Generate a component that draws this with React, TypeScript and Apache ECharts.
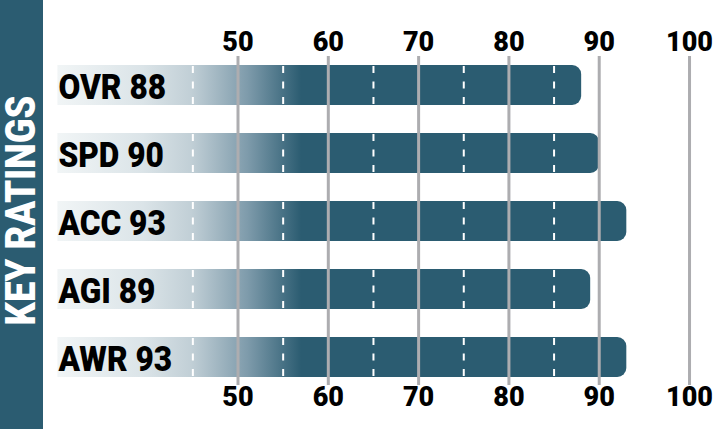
import React, { useEffect, useRef } from "react";
import * as echarts from "echarts";

// Ratings shown as horizontal bars, top to bottom
const categories = ["OVR", "SPD", "ACC", "AGI", "AWR"];
const ratings = [88, 90, 93, 89, 93];

// Axis scale and reference lines
const axisMin = 30;
const axisMax = 102;
const tickLabels = [50, 60, 70, 80, 90, 100];
const dashedMarks = [45, 55, 65, 75, 85, 95];

// Value range over which the bar fill fades in from pale to solid
const fadeStart = 30;
const fadeEnd = 57;

const TEAL = "#2b5c71";
const FONT = "Roboto, 'Liberation Sans', sans-serif";

export default function App() {
  const ref = useRef<HTMLDivElement>(null);

  useEffect(() => {
    if (!ref.current) return;
    const chart = echarts.init(ref.current, undefined, { renderer: "svg" });

    const gridLeft = 57.4;
    const gridRight = 4.8;
    const gridTop = 51;
    const gridBottom = 38;

    const axisBase = {
      type: "value" as const,
      min: axisMin,
      max: axisMax,
      interval: 10,
      startValue: axisMin,
      axisLine: { show: false },
      axisTick: { show: false },
      splitLine: { show: false },
      axisLabel: {
        fontFamily: FONT,
        fontWeight: 900,
        fontSize: 27,
        color: "#000",
        formatter: (v: number) => (tickLabels.indexOf(v) >= 0 ? String(v) : ""),
      },
    };

    const gridLineData = tickLabels.map((v) => [v, 0]);
    const dashData: number[][] = [];
    ratings.forEach((r, i) => {
      dashedMarks.forEach((m) => {
        if (m < r) dashData.push([m, i]);
      });
    });
    const labelData = ratings.map((r, i) => [axisMin, i, r]);

    const build = (x0: number, x1: number) => ({
      animation: false,
      grid: { left: gridLeft, right: gridRight, top: gridTop, bottom: gridBottom },
      xAxis: [
        { ...axisBase, position: "top", axisLabel: { ...axisBase.axisLabel, margin: -4 } },
        { ...axisBase, position: "bottom", axisLabel: { ...axisBase.axisLabel, margin: -8 } },
      ],
      yAxis: {
        type: "category",
        data: categories,
        inverse: true,
        show: false,
      },
      graphic: [
        {
          type: "rect",
          left: 0,
          top: 0,
          shape: { width: 43, height: 429 },
          style: { fill: TEAL },
          z: 10,
        },
        {
          type: "text",
          x: 20.5,
          y: 210.5,
          rotation: Math.PI / 2,
          scaleX: 0.85,
          style: {
            text: "KEY RATINGS",
            fill: "#fff",
            font: `900 43px ${FONT}`,
            align: "center",
            verticalAlign: "middle",
          },
          z: 11,
        },
      ],
      series: [
        {
          type: "bar",
          xAxisIndex: 0,
          data: ratings,
          barWidth: 40,
          z: 2,
          itemStyle: {
            borderRadius: [0, 9, 9, 0],
            color: new echarts.graphic.LinearGradient(
              x0, 0, x1, 0,
              [
                { offset: 0, color: "#f1f5f6" },
                { offset: 0.35, color: "#dbe4e8" },
                { offset: 0.55, color: "#c1cfd6" },
                { offset: 0.78, color: "#7e9bab" },
                { offset: 1, color: TEAL },
              ],
              true
            ),
          },
        },
        {
          // rating name and value written at the start of each bar
          type: "custom",
          xAxisIndex: 0,
          data: labelData,
          z: 5,
          silent: true,
          renderItem: (params: any, api: any) => {
            const i = api.value(1);
            const pt = api.coord([api.value(0), i]);
            return {
              type: "text",
              x: pt[0] + 1,
              y: pt[1] + 1.5,
              scaleX: 0.88,
              style: {
                text: `${categories[i]} ${api.value(2)}`,
                fill: "#000",
                font: `900 36px ${FONT}`,
                align: "left",
                verticalAlign: "middle",
              },
            };
          },
        },
        {
          // white dashed guides inside the bars
          type: "custom",
          xAxisIndex: 0,
          data: dashData,
          z: 3,
          silent: true,
          renderItem: (params: any, api: any) => {
            const pt = api.coord([api.value(0), api.value(1)]);
            const half = 19;
            return {
              type: "line",
              shape: { x1: pt[0], y1: pt[1] - half, x2: pt[0], y2: pt[1] + half },
              style: { stroke: "#fff", lineWidth: 2, lineDash: [7, 8.5] },
            };
          },
        },
        {
          // solid grey reference lines at each labelled value
          type: "custom",
          xAxisIndex: 0,
          data: gridLineData,
          z: 4,
          silent: true,
          renderItem: (params: any, api: any) => {
            const v = api.value(0);
            const first = api.coord([v, 0]);
            const last = api.coord([v, categories.length - 1]);
            const band = api.size([0, 1])[1];
            return {
              type: "line",
              shape: {
                x1: first[0],
                y1: first[1] - band / 2 + 5,
                x2: last[0],
                y2: last[1] + band / 2 - 6,
              },
              style: { stroke: "#adadb0", lineWidth: 3 },
            };
          },
        },
      ],
    });

    chart.setOption(build(0, 300) as any);
    const x0 = chart.convertToPixel({ xAxisIndex: 0 }, fadeStart) as number;
    const x1 = chart.convertToPixel({ xAxisIndex: 0 }, fadeEnd) as number;
    chart.setOption(build(x0, x1) as any);

    return () => chart.dispose();
  }, []);

  return (
    <div
      ref={ref}
      style={{ position: "fixed", left: 0, top: 0, width: 716, height: 429, background: "#fff" }}
    />
  );
}
